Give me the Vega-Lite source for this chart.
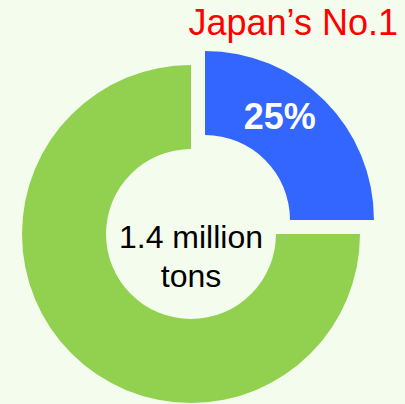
{
  "$schema": "https://vega.github.io/schema/vega-lite/v6.json",
  "width": 338,
  "height": 338,
  "autosize": "none",
  "padding": {"left": 22, "top": 65, "right": 45, "bottom": 1},
  "background": "#f4fcee",
  "title": {
    "text": "Japan’s No.1",
    "anchor": "end",
    "color": "#ff0000",
    "font": "Liberation Sans",
    "fontSize": 36,
    "fontWeight": "normal",
    "baseline": "alphabetic",
    "offset": 30,
    "dx": 24,
    "dy": 50
  },
  "view": {"stroke": null},
  "data": {
    "values": [
      {"part": "Japan", "share": 25, "label": "25%"},
      {"part": "Others", "share": 75, "label": ""}
    ]
  },
  "layer": [
    {
      "mark": {"type": "arc", "innerRadius": 85, "outerRadius": 169},
      "encoding": {
        "theta": {"field": "share", "type": "quantitative", "stack": true},
        "color": {"field": "part", "type": "nominal", "scale": {"domain": ["Japan", "Others"], "range": ["#3366ff", "#92d050"]}, "legend": null},
        "opacity": {"condition": {"test": "datum.part === 'Japan'", "value": 0}, "value": 1}
      }
    },
    {
      "mark": {"type": "arc", "innerRadius": 85, "outerRadius": 169, "xOffset": 14, "yOffset": -14},
      "encoding": {
        "theta": {"field": "share", "type": "quantitative", "stack": true},
        "color": {"field": "part", "type": "nominal", "scale": {"domain": ["Japan", "Others"], "range": ["#3366ff", "#92d050"]}, "legend": null},
        "opacity": {"condition": {"test": "datum.part === 'Japan'", "value": 1}, "value": 0}
      }
    },
    {
      "mark": {"type": "text", "radius": 127, "xOffset": 14, "yOffset": -14, "dx": -15, "dy": -12, "font": "Liberation Sans", "fontSize": 36, "fontWeight": "bold", "baseline": "middle", "align": "center"},
      "encoding": {
        "theta": {"field": "share", "type": "quantitative", "stack": true},
        "detail": {"field": "part", "type": "nominal"},
        "order": {"field": "part", "type": "nominal", "sort": "ascending"},
        "text": {"field": "label", "type": "nominal"},
        "color": {"value": "#ffffff"}
      }
    },
    {
      "data": {"values": [{"caption": "1.4 million\ntons"}]},
      "mark": {"type": "text", "lineBreak": "\n", "lineHeight": 39, "font": "Liberation Sans", "fontSize": 32, "baseline": "alphabetic", "align": "center", "dy": 14},
      "encoding": {
        "text": {"field": "caption", "type": "nominal"},
        "color": {"value": "#000000"}
      }
    }
  ]
}
